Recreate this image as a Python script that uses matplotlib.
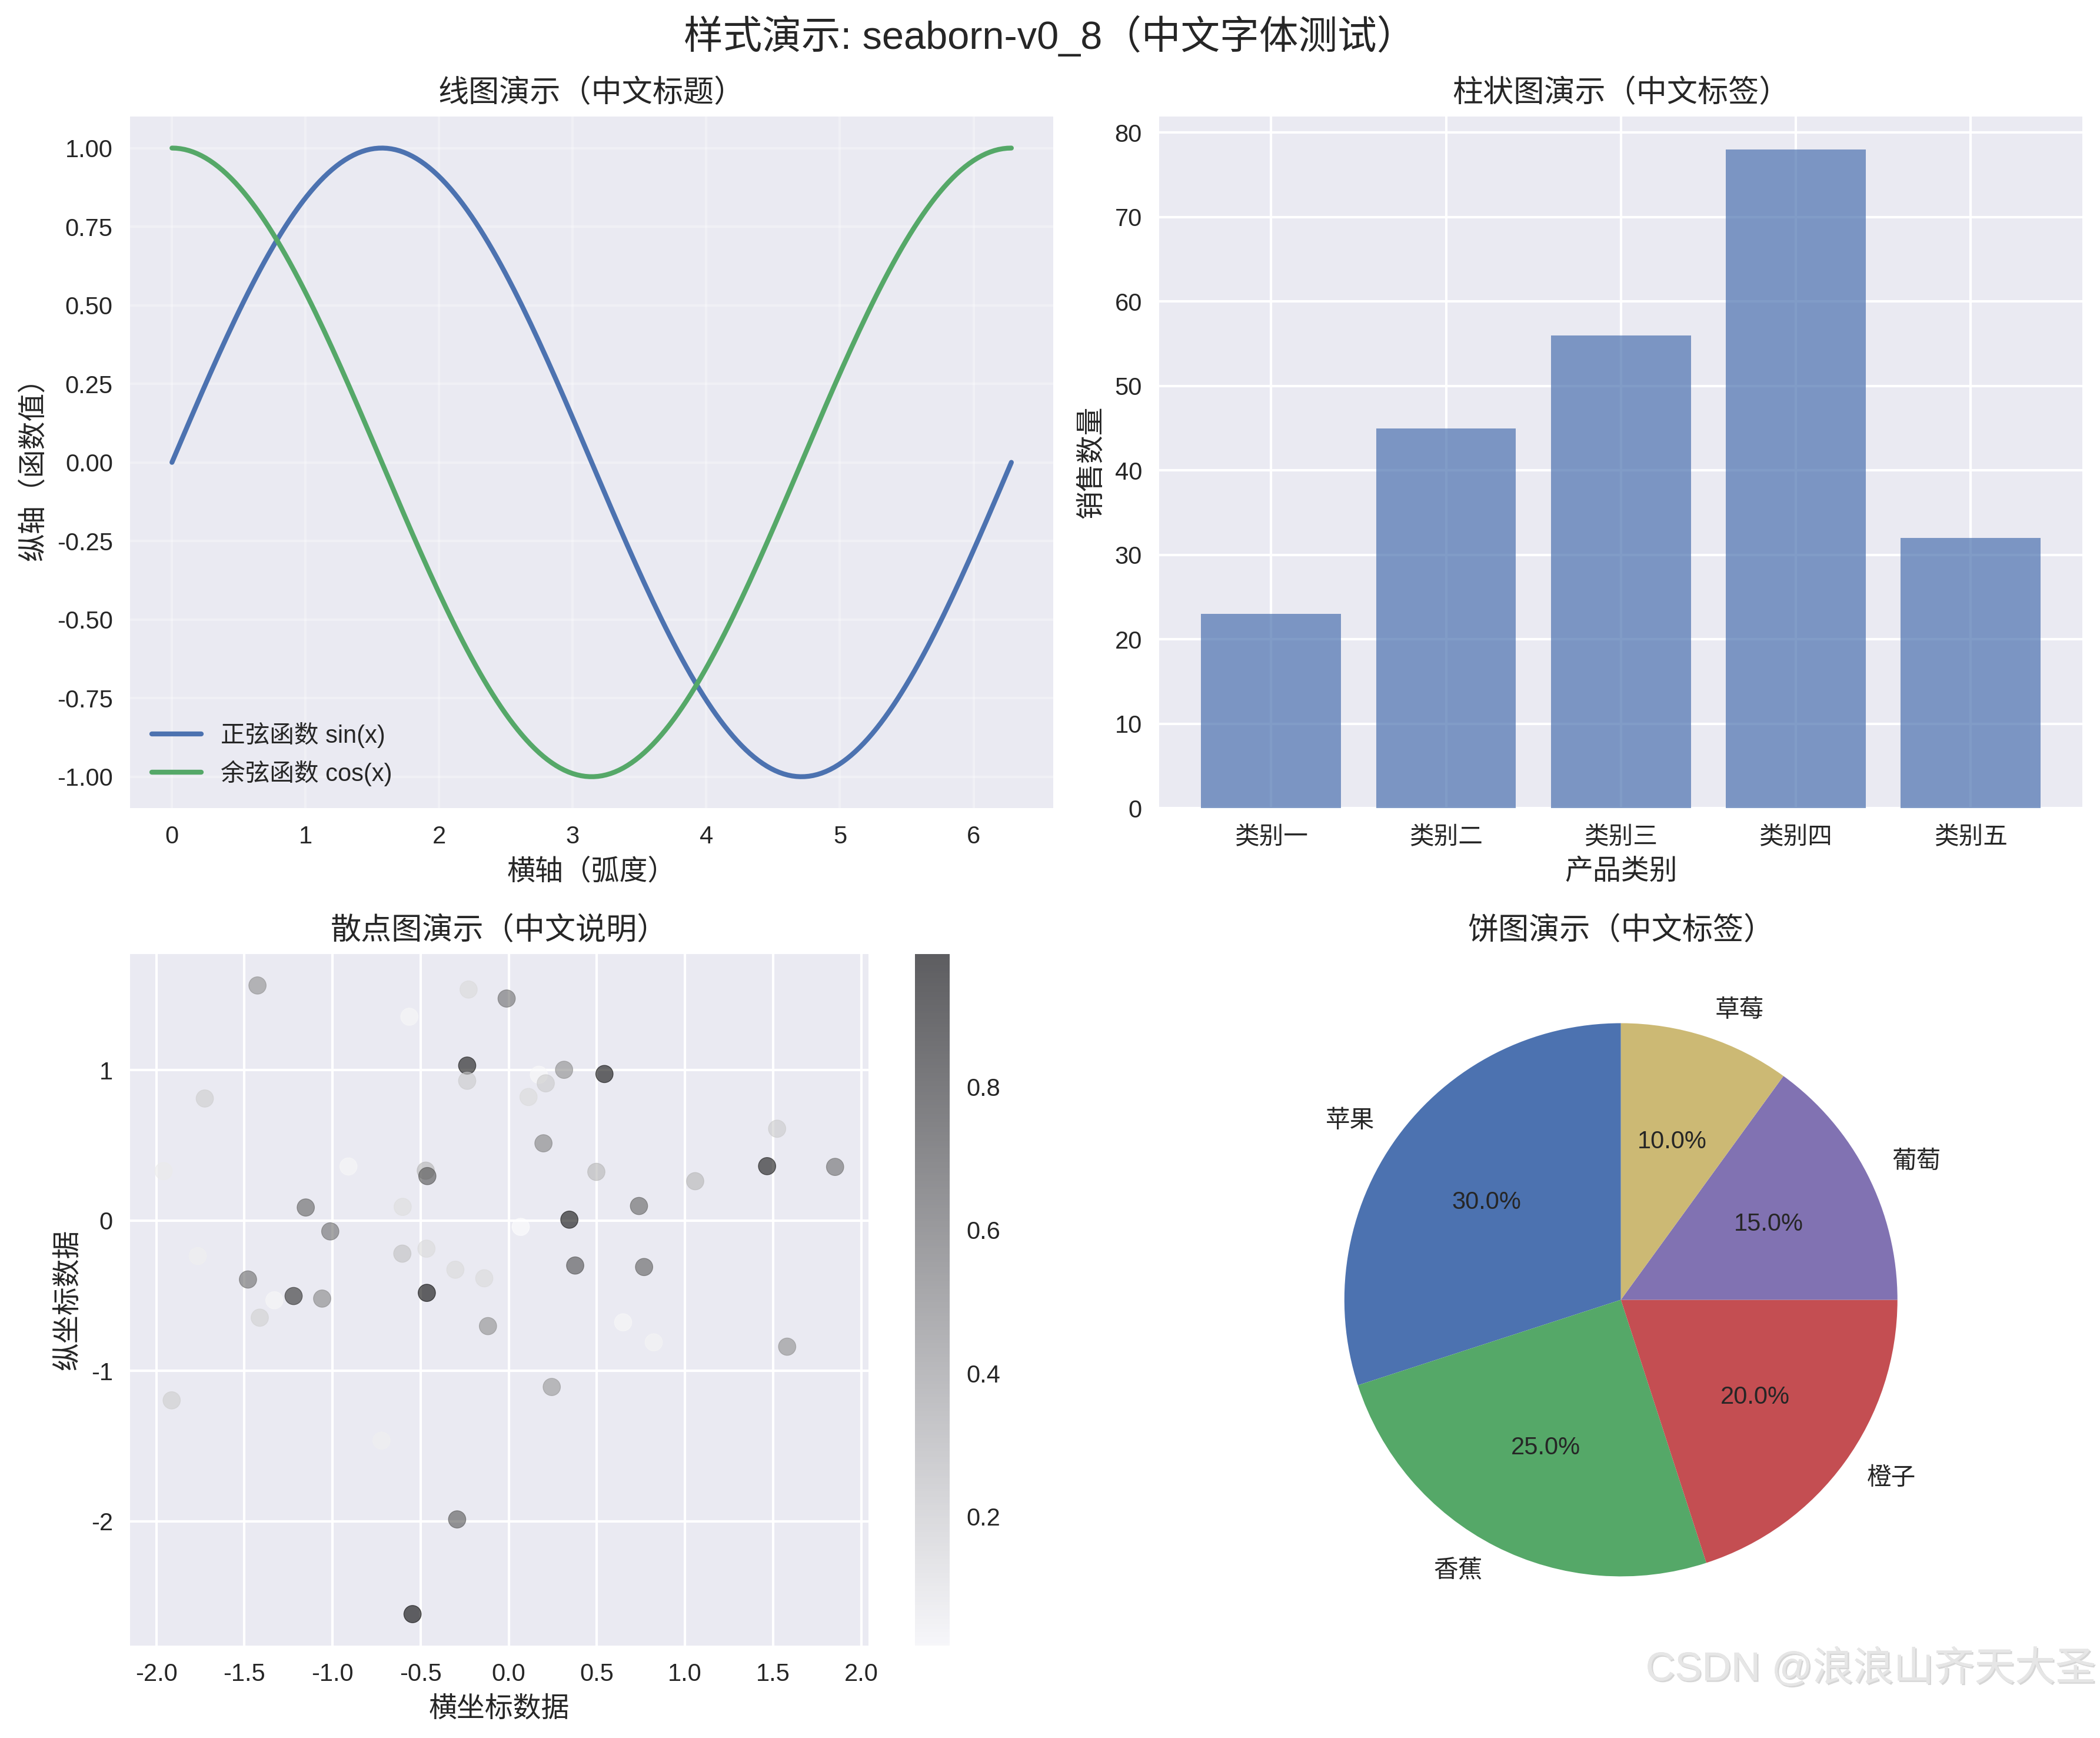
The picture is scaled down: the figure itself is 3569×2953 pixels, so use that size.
import numpy as np
import matplotlib
matplotlib.use('Agg')
import matplotlib.pyplot as plt
import matplotlib.patheffects as pe

plt.style.use('seaborn-v0_8')
plt.rcParams['font.family'] = ['Liberation Sans', 'Noto Sans CJK SC', 'DejaVu Sans']
plt.rcParams['axes.unicode_minus'] = False

# ---- data ----
x_line = np.linspace(0, 2 * np.pi, 200)
sin_label = '正弦函数 sin(x)'
cos_label = '余弦函数 cos(x)'

bar_categories = ['类别一', '类别二', '类别三', '类别四', '类别五']
bar_values = [23, 45, 56, 78, 32]

scatter_x = [-1.426, -0.228, -0.564, -0.236, -0.236, -1.725, -1.959, -0.910, -0.471, -0.462,
             -1.152, -0.602, -1.013, -1.765, -0.604, -0.467, -0.303, -0.139, -1.480, -1.330,
             -1.221, -1.059, -0.465, -1.413, -0.118, -1.913, -0.722, -0.293, -0.546, -0.012,
             0.171, 0.210, 0.314, 0.543, 0.112, 0.197, 0.497, 1.523, 1.466, 1.852,
             1.058, 0.739, 0.344, 0.068, 0.377, 0.768, 0.649, 0.823, 1.580, 0.244]
scatter_y = [1.564, 1.537, 1.356, 1.031, 0.930, 0.812, 0.329, 0.360, 0.332, 0.296,
             0.087, 0.091, -0.072, -0.236, -0.220, -0.187, -0.327, -0.384, -0.392, -0.530,
             -0.502, -0.519, -0.481, -0.646, -0.702, -1.196, -1.464, -1.988, -2.618, 1.477,
             0.970, 0.913, 1.003, 0.975, 0.822, 0.514, 0.324, 0.611, 0.362, 0.357,
             0.262, 0.097, 0.006, -0.042, -0.299, -0.309, -0.677, -0.810, -0.839, -1.107]
scatter_c = [0.45, 0.16, 0.05, 0.93, 0.22, 0.21, 0.10, 0.05, 0.30, 0.69,
             0.62, 0.15, 0.58, 0.08, 0.26, 0.16, 0.16, 0.16, 0.59, 0.05,
             0.82, 0.48, 0.97, 0.20, 0.45, 0.21, 0.08, 0.67, 0.985, 0.58,
             0.04, 0.22, 0.46, 0.95, 0.16, 0.50, 0.30, 0.22, 0.92, 0.58,
             0.30, 0.62, 0.95, 0.02, 0.70, 0.64, 0.05, 0.06, 0.45, 0.42]

pie_labels = ['苹果', '香蕉', '橙子', '葡萄', '草莓']
pie_sizes = [30, 25, 20, 15, 10]

# ---- figure ----
fig, axes = plt.subplots(2, 2, figsize=(3569 / 300, 2953 / 300))
fig.subplots_adjust(left=0.0619, right=0.9917, top=0.9329, bottom=0.0532,
                    wspace=0.1147, hspace=0.211)
fig.suptitle('样式演示: seaborn-v0_8（中文字体测试）', fontsize=16, y=0.979, va='center')

# line plot
ax = axes[0, 0]
ax.plot(x_line, np.sin(x_line), label=sin_label, linewidth=2)
ax.plot(x_line, np.cos(x_line), label=cos_label, linewidth=2)
ax.set_title('线图演示（中文标题）', fontsize=12.5)
ax.set_xlabel('横轴（弧度）', fontsize=11.5)
ax.set_ylabel('纵轴（函数值）', fontsize=11.5)
ax.legend()
ax.grid(True, alpha=0.3)

# bar plot
ax = axes[0, 1]
ax.bar(bar_categories, bar_values, alpha=0.7)
ax.set_title('柱状图演示（中文标签）', fontsize=12.5)
ax.set_xlabel('产品类别', fontsize=11.5)
ax.set_ylabel('销售数量', fontsize=11.5)

# scatter
ax = axes[1, 0]
sc = ax.scatter(scatter_x, scatter_y, c=scatter_c, s=50, alpha=0.6, cmap='gray_r')
ax.set_title('散点图演示（中文说明）', fontsize=12.5)
ax.set_xlabel('横坐标数据', fontsize=11.5)
ax.set_ylabel('纵坐标数据', fontsize=11.5)
plt.colorbar(sc, ax=ax)

# pie
ax = axes[1, 1]
ax.pie(pie_sizes, labels=pie_labels, autopct='%1.1f%%', startangle=90)
ax.set_title('饼图演示（中文标签）', fontsize=12.5)

wm = fig.text(0.998, 0.040, 'CSDN @浪浪山齐天大圣', ha='right', va='center',
              fontsize=16.5, color='#e6e6e6',
              family=['Liberation Sans', 'Noto Sans CJK SC'])
wm.set_path_effects([pe.withSimplePatchShadow(offset=(0.6, -0.6), shadow_rgbFace='#bbbbbb', alpha=0.6),
                     pe.Normal()])

plt.savefig('out.png', dpi=300)
